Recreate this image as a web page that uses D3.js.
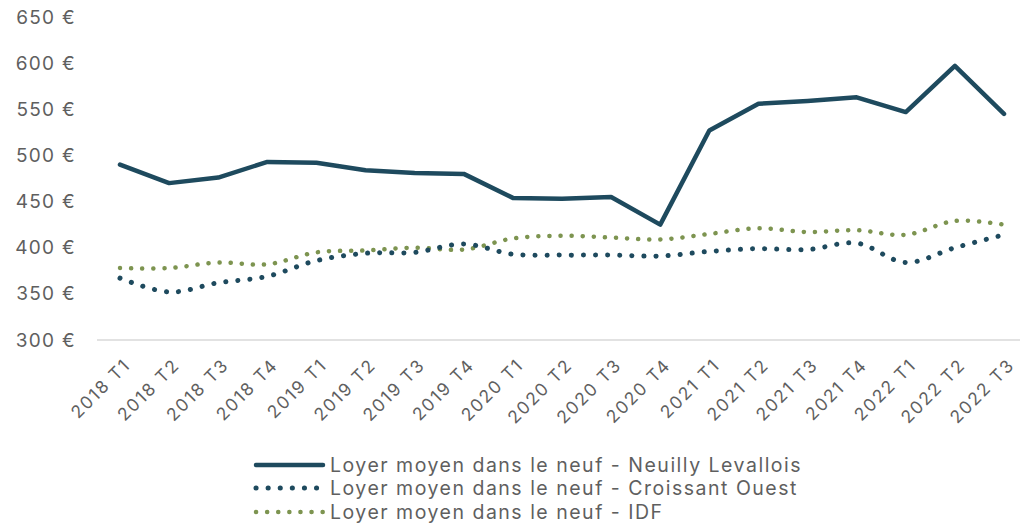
<!DOCTYPE html>
<html>
<head>
<meta charset="utf-8">
<script src="https://cdn.jsdelivr.net/npm/d3@7"></script>
<style>
  body { margin: 0; background: #fff; }
  svg { display: block; font-family: Inter, "Noto Sans", sans-serif; }
  .tick text { fill: #5f5f5f; }
</style>
</head>
<body>
<svg id="chart" width="1020" height="524"></svg>
<script>
const periods = ['2018 T1', '2018 T2', '2018 T3', '2018 T4', '2019 T1', '2019 T2', '2019 T3', '2019 T4',
    '2020 T1', '2020 T2', '2020 T3', '2020 T4', '2021 T1', '2021 T2', '2021 T3', '2021 T4',
    '2022 T1', '2022 T2', '2022 T3'];
const neuilly = [490, 470, 476, 493, 492, 484, 481, 480, 454, 453, 455, 425, 527, 556, 559, 563, 547, 597, 545];
const croissant = [367, 352, 362, 369, 386, 394, 395, 404, 393, 392, 392, 391, 396, 399, 398, 405, 384, 400, 414];
const idf = [378, 378, 384, 382, 395, 397, 400, 398, 410, 413, 411, 409, 415, 421, 417, 419, 414, 429, 425];
const yTicks = [300, 350, 400, 450, 500, 550, 600, 650];

const DARK = '#1e4a5e';
const OLIVE = '#7d9450';

const series = [
    { name: 'Loyer moyen dans le neuf - Neuilly Levallois', values: neuilly, color: DARK, dash: null, width: 4.5, curve: d3.curveLinear },
    { name: 'Loyer moyen dans le neuf - Croissant Ouest', values: croissant, color: DARK, dash: '0.1 12', width: 5, curve: d3.curveCatmullRom.alpha(0.5) },
    { name: 'Loyer moyen dans le neuf - IDF', values: idf, color: OLIVE, dash: '0.1 11', width: 4.5, curve: d3.curveCatmullRom.alpha(0.5) }
];

const svg = d3.select('#chart');

const x = d3.scalePoint()
    .domain(periods)
    .range([120, 1004]);

const y = d3.scaleLinear()
    .domain([300, 650])
    .range([340, 17]);

// baseline
svg.append('line')
    .attr('x1', 97).attr('x2', 1020)
    .attr('y1', y(300)).attr('y2', y(300))
    .attr('stroke', '#d9d9d9')
    .attr('stroke-width', 1.5);

// y axis labels
const yAxis = svg.append('g')
    .attr('transform', 'translate(76,0)')
    .call(d3.axisLeft(y).tickValues(yTicks).tickSize(0).tickPadding(0).tickFormat(d => `${d} €`));
yAxis.select('.domain').remove();
yAxis.selectAll('text')
    .attr('font-size', 19)
    .attr('letter-spacing', 1.3)
    .attr('font-family', 'Inter, sans-serif');

// x axis labels
const xAxis = svg.append('g')
    .attr('transform', `translate(0,${y(300)})`)
    .call(d3.axisBottom(x).tickSize(0));
xAxis.select('.domain').remove();
xAxis.selectAll('text')
    .attr('font-size', 17.5)
    .attr('letter-spacing', 1.8)
    .attr('font-family', 'Inter, sans-serif')
    .attr('text-anchor', 'end')
    .attr('dy', 0)
    .attr('transform', 'translate(9,24) rotate(-45)');

// lines
const line = (curve) => d3.line()
    .x((d, i) => x(periods[i]))
    .y(d => y(d))
    .curve(curve);

series.slice().reverse().forEach(s => {
    svg.append('path')
        .datum(s.values)
        .attr('fill', 'none')
        .attr('stroke', s.color)
        .attr('stroke-width', s.width)
        .attr('stroke-linecap', 'round')
        .attr('stroke-linejoin', 'round')
        .attr('stroke-dasharray', s.dash)
        .attr('d', line(s.curve));
});

// legend
const legend = svg.append('g');
const rows = [465, 488, 512];
series.forEach((s, i) => {
    legend.append('line')
        .attr('x1', 256).attr('x2', 323)
        .attr('y1', rows[i]).attr('y2', rows[i])
        .attr('stroke', s.color)
        .attr('stroke-width', s.width)
        .attr('stroke-linecap', 'round')
        .attr('stroke-dasharray', s.dash);
    legend.append('text')
        .attr('x', 330)
        .attr('y', rows[i])
        .attr('dy', '0.35em')
        .attr('fill', '#5f5f5f')
        .attr('font-size', 19.5)
        .attr('letter-spacing', 1.5)
        .text(s.name);
});
</script>
</body>
</html>
